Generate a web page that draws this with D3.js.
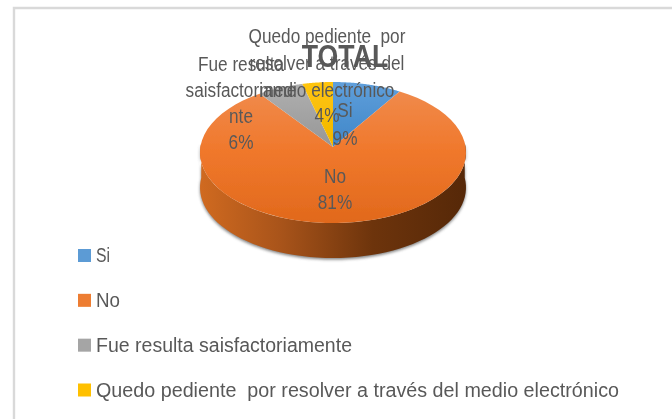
<!DOCTYPE html>
<html><head><meta charset="utf-8">
<script src="https://cdnjs.cloudflare.com/ajax/libs/d3/7.8.5/d3.min.js"></script>
<style>html,body{margin:0;padding:0;background:#fff}svg{display:block}text{font-family:"Liberation Sans",sans-serif;fill:#595959}</style>
</head><body>
<script>
const categories = ["Si","No","Fue resulta saisfactoriamente","Quedo pediente  por resolver a través del medio electrónico"];
const values = [9,81,6,4];
const colors = ["#5b9bd5","#ed7d31","#a5a5a5","#ffc000"];
const percentLabels = ["9%","81%","6%","4%"];
const titleText = "TOTAL";

const W=672,H=419;
const svg=d3.select("body").append("svg").attr("width",W).attr("height",H);
const defs=svg.append("defs");
defs.append("filter").attr("id","soft").append("feGaussianBlur").attr("stdDeviation",0.45);
defs.append("filter").attr("id","shadow").attr("x","-10%").attr("y","-10%").attr("width","120%").attr("height","120%").append("feGaussianBlur").attr("stdDeviation",1.6);

function grad(id,stops,x2,y2){
  const g=defs.append("linearGradient").attr("id",id).attr("x1",0).attr("y1",0).attr("x2",x2).attr("y2",y2);
  stops.forEach(s=>g.append("stop").attr("offset",s[0]).attr("stop-color",s[1]));
}
grad("g0",[[0,"#5f9fdb"],[1,"#3f86c8"]],0,1);
grad("g1",[[0,"#f08a4b"],[0.45,"#f0782c"],[1,"#e1691c"]],0,1);
grad("g2",[[0,"#b0b0b0"],[1,"#969696"]],0,1);
grad("g3",[[0,"#ffc50f"],[1,"#f2b600"]],0,1);
grad("wall",[[0,"#d06a20"],[0.3,"#a9541a"],[0.65,"#6d340c"],[1,"#562808"]],1,0);

svg.append("path").attr("d",`M14,${H}V8H${W}`).attr("fill","none").attr("stroke","#d9d9d9").attr("stroke-width",2.4);

const cx=333, apexY=147, a=132.6, b=70.07, k=0.078, depth=35;
function proj(t,dy=0){
  const u=Math.sin(t), v=Math.cos(t), w=1+k*v;
  return [cx+a*u/w, apexY-b*v/w+dy];
}
const line=d3.line();
const pie=d3.pie().sort(null).value(d=>d)(values);
const steps=ang=>d3.range(0,61).map(i=>ang[0]+(ang[1]-ang[0])*i/60);

const front=steps([Math.PI/2-0.06,Math.PI*1.5+0.06]);
const wallPts=front.map(t=>proj(t)).concat(front.slice().reverse().map(t=>proj(t,depth)));
svg.append("path").attr("d",line(wallPts)+"Z").attr("fill","#555").attr("transform","translate(0,1.6)").attr("filter","url(#shadow)").attr("opacity",.75);
svg.append("path").attr("d",line(wallPts)+"Z").attr("fill","url(#wall)");

const g=svg.append("g").attr("filter","url(#soft)");
g.selectAll("path.slice").data(pie).join("path").attr("class","slice")
 .attr("d",d=>line([[cx,apexY]].concat(steps([d.startAngle,d.endAngle]).map(t=>proj(t))))+"Z")
 .attr("fill",(d,i)=>`url(#g${i})`);

const legendY=d3.scalePoint().domain(categories).range([255.5,390]);
const legendW=[14,24,256,523];
const lg=svg.append("g").attr("filter","url(#soft)");
lg.selectAll("rect").data(categories).join("rect")
 .attr("x",78).attr("y",d=>legendY(d)-6.5).attr("width",13).attr("height",13)
 .attr("fill",(d,i)=>colors[i]);
lg.selectAll("text").data(categories).join("text")
 .attr("x",96).attr("y",d=>legendY(d)+6.5).attr("font-size",20)
 .attr("textLength",(d,i)=>legendW[i]).attr("lengthAdjust","spacingAndGlyphs")
 .style("white-space","pre").text(d=>d);

const narrow=0.86;
function squeeze(sel){ const n=sel.node(); sel.attr("textLength",n.getComputedTextLength()*narrow).attr("lengthAdjust","spacingAndGlyphs"); }
const labelBlocks=[
 {x:345,lines:[["Si",117],[percentLabels[0],145]]},
 {x:335,lines:[["No",183],[percentLabels[1],209]]},
 {x:241,lines:[["Fue resulta",71],["saisfactoriame",97],["nte",123],[percentLabels[2],149]]},
 {x:327,lines:[["Quedo pediente  por",43],["resolver a través del",70],["medio electrónico",97],[percentLabels[3],122]]}
];
const tg=svg.append("g").attr("filter","url(#soft)");
labelBlocks.forEach(bk=>bk.lines.forEach(l=>{
  squeeze(tg.append("text").attr("x",bk.x).attr("y",l[1]).attr("text-anchor","middle").attr("font-size",20).style("white-space","pre").text(l[0]));
}));
squeeze(tg.append("text").attr("x",345).attr("y",67).attr("text-anchor","middle").attr("font-size",31).attr("font-weight","bold").text(titleText));
</script>
</body></html>
